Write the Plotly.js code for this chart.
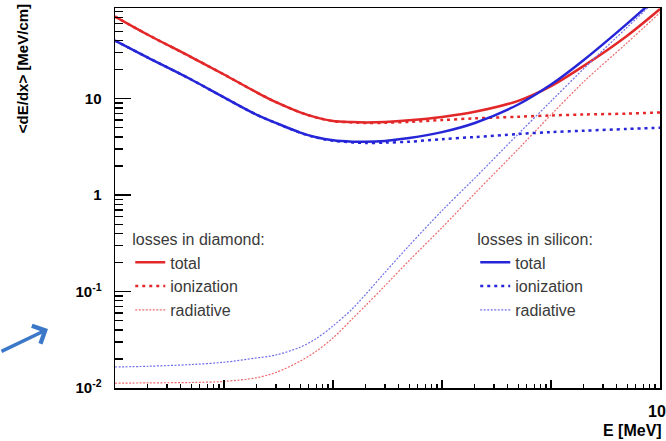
<!DOCTYPE html>
<html><head><meta charset="utf-8">
<script src="https://cdn.plot.ly/plotly-3.0.1.min.js"></script>
<style>html,body{margin:0;padding:0;background:#fff;} #chart{width:666px;height:441px;}</style>
</head><body><div id="chart"></div>
<script>
// Kinetic energy [MeV]
const energy = [0.01, 0.02, 0.05, 0.1, 0.2, 0.3, 0.5, 0.7, 1, 1.5, 2, 3, 5, 10, 20, 50, 100, 200, 500, 1000];

// Diamond <dE/dx> [MeV/cm]
const diamondTotal      = [71, 46, 27, 17.8, 11.6, 9.2, 7.22, 6.4, 5.88, 5.72, 5.67, 5.73, 5.96, 6.46, 7.3, 9.5, 13.5, 21.9, 45, 85];
const diamondIonization = [71, 46, 27, 17.8, 11.6, 9.2, 7.2, 6.38, 5.85, 5.67, 5.6, 5.62, 5.75, 6.0, 6.25, 6.5, 6.7, 6.85, 7.0, 7.2];
const diamondRadiative  = [0.0112, 0.0113, 0.0114, 0.0117, 0.0128, 0.0145, 0.019, 0.024, 0.033, 0.052, 0.072, 0.115, 0.21, 0.46, 1.04, 3.0, 6.8, 15, 38, 78];

// Silicon <dE/dx> [MeV/cm]
const siliconTotal      = [40, 26.7, 15.8, 10.3, 6.8, 5.6, 4.45, 3.98, 3.7, 3.58, 3.57, 3.65, 3.9, 4.5, 5.6, 8.7, 14.0, 25.2, 60, 120];
const siliconIonization = [40, 26.7, 15.8, 10.3, 6.8, 5.58, 4.43, 3.95, 3.66, 3.52, 3.47, 3.5, 3.58, 3.8, 4.0, 4.3, 4.5, 4.65, 4.85, 5.0];
const siliconRadiative  = [0.0165, 0.0168, 0.0175, 0.0185, 0.0205, 0.022, 0.0265, 0.0325, 0.044, 0.066, 0.094, 0.158, 0.30, 0.69, 1.5, 4.3, 9.4, 20.5, 55, 115];

const seriesNames = ['total', 'ionization', 'radiative'];
const legendTitles = ['losses in diamond:', 'losses in silicon:'];

const xTickVals = [0.01, 0.1, 1, 10, 100, 1000];
const xTickText = ['', '', '', '', '', '10<sup>3</sup>'];
const yTickVals = [0.01, 0.1, 1, 10];
const yTickText = ['10<sup>-2</sup>', '10<sup>-1</sup>', '1', '10'];

const RED = '#e3282a', BLUE = '#2626d8', RED_L = '#ee6a6a', BLUE_L = '#6f6fec';
const FONT = 'Liberation Sans, Arial, Helvetica, sans-serif';

function tr(y, name, color, width, dash, legend, group) {
  return {x: energy, y: y, name: name, type: 'scatter', mode: 'lines',
    line: {color: color, width: width, dash: dash, shape: 'spline', smoothing: 0.9},
    legend: legend, legendgroup: group, hoverinfo: 'skip'};
}

const data = [
  tr(diamondTotal, seriesNames[0], RED, 2.5, 'solid', 'legend', 'd1'),
  tr(diamondIonization, seriesNames[1], RED, 2.5, '3px,4px', 'legend', 'd2'),
  tr(diamondRadiative, seriesNames[2], RED_L, 1.2, '2px,1.5px', 'legend', 'd3'),
  tr(siliconTotal, seriesNames[0], BLUE, 2.5, 'solid', 'legend2', 's1'),
  tr(siliconIonization, seriesNames[1], BLUE, 2.5, '3px,4px', 'legend2', 's2'),
  tr(siliconRadiative, seriesNames[2], BLUE_L, 1.2, '2px,1.5px', 'legend2', 's3')
];

const legendFont = {family: FONT, size: 16, color: '#3a3a3a'};
const legendBase = {
  bgcolor: 'rgba(0,0,0,0)', borderwidth: 0, yanchor: 'top', xanchor: 'left',
  font: legendFont, tracegroupgap: 0, itemwidth: 30
};

const axisBase = {
  type: 'log', showgrid: false, zeroline: false, showline: true, linecolor: '#000', linewidth: 1.5,
  mirror: true, ticks: 'inside', tickcolor: '#000', tickwidth: 1.5, tickmode: 'array',
  ticklabeloverflow: 'allow',
  tickfont: {family: FONT, size: 15, color: '#000', weight: 'bold'}
};

const layout = {
  width: 666, height: 441,
  margin: {l: 115, r: 6, t: 8, b: 53},
  paper_bgcolor: '#fff', plot_bgcolor: '#fff',
  showlegend: true,
  xaxis: Object.assign({}, axisBase, {
    range: [-2, 3], tickvals: xTickVals, ticktext: xTickText, ticklen: 8, ticklabelstandoff: 8,
    tickfont: {family: FONT, size: 16, color: '#000', weight: 'bold'},
    minor: {ticks: 'inside', ticklen: 4, tickwidth: 1.2, tickcolor: '#000', dtick: 'D1', showgrid: false}
  }),
  yaxis: Object.assign({}, axisBase, {
    range: [-2, 1.94], tickvals: yTickVals, ticktext: yTickText, ticklen: 16, ticklabelstandoff: 9,
    minor: {ticks: 'inside', ticklen: 8, tickwidth: 1.2, tickcolor: '#000', dtick: 'D1', showgrid: false}
  }),
  legend: Object.assign({}, legendBase, {x: 0.028, y: 0.43, title: {text: legendTitles[0], font: legendFont}}),
  legend2: Object.assign({}, legendBase, {x: 0.661, y: 0.43, title: {text: legendTitles[1], font: legendFont}}),
  annotations: [
    {xref: 'paper', yref: 'paper', x: -0.17, y: 0.84, text: '<b>&lt;dE/dx&gt; [MeV/cm]</b>', textangle: -90,
     showarrow: false, xanchor: 'center', yanchor: 'middle', font: {family: FONT, size: 15, color: '#000'}},
    {xref: 'paper', yref: 'paper', x: 1.007, y: -0.112, text: '<b>E [MeV]</b>',
     showarrow: false, xanchor: 'right', yanchor: 'middle', font: {family: FONT, size: 16, color: '#000'}},
    {xref: 'paper', yref: 'paper', x: -0.123, y: 0.155, text: '', showarrow: true,
     ax: -50, ay: 23, arrowhead: 4, arrowsize: 1.1, arrowwidth: 3.5, arrowcolor: '#3b78c8'}
  ]
};

Plotly.newPlot('chart', data, layout, {staticPlot: true, displayModeBar: false});
</script></body></html>
